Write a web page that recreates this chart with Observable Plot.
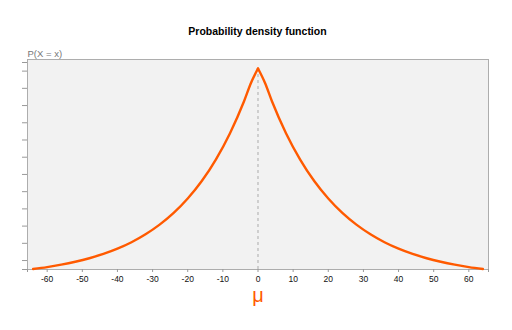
<!DOCTYPE html>
<html>
<head>
<meta charset="utf-8">
<script src="https://cdn.jsdelivr.net/npm/d3@7"></script>
<script src="https://cdn.jsdelivr.net/npm/@observablehq/plot@0.6"></script>
<style>
  body { margin: 0; background: #fff; font-family: "Liberation Sans", Arial, Helvetica, sans-serif; }
  #title {
    box-sizing: border-box; height: 40px; padding-top: 25px;
    margin-left: 27px; width: 461px; text-align: center;
    font-weight: bold; font-size: 10.5px; line-height: 12px; color: #000;
  }
</style>
</head>
<body>
<div id="title">Probability density function</div>
<div id="chart"></div>
<script>
// Laplace-shaped density around μ = 0, sampled every few units
const xs = [-64, -60, -56, -52, -48, -44, -40, -36, -32, -28, -24, -20, -16, -12, -8, -4, -2, 0,
            2, 4, 8, 12, 16, 20, 24, 28, 32, 36, 40, 44, 48, 52, 56, 60, 64];
const density = [0.00102, 0.00124, 0.00152, 0.00186, 0.00227, 0.00277, 0.00338, 0.00413, 0.00505,
                 0.00617, 0.00753, 0.00920, 0.01123, 0.01372, 0.01676, 0.02047, 0.02262, 0.02430,
                 0.02262, 0.02047, 0.01676, 0.01372, 0.01123, 0.00920, 0.00753, 0.00617, 0.00505,
                 0.00413, 0.00338, 0.00277, 0.00227, 0.00186, 0.00152, 0.00124, 0.00102];
const mu = 0;
const xDomain = [-65.6, 65.6];
const yDomain = [0.00096, 0.025];
const xTicks = [-60, -50, -40, -30, -20, -10, 0, 10, 20, 30, 40, 50, 60];
const yTicks = [0.002, 0.004, 0.006, 0.008, 0.010, 0.012, 0.014, 0.016, 0.018, 0.020, 0.022, 0.024];

const orange = "#ff5a00";
const peak = density[xs.indexOf(mu)];

// two branches meeting at the peak so the cusp stays sharp
const rows = [];
xs.forEach((x, i) => {
  if (x <= mu) rows.push({x, p: density[i], side: "left"});
  if (x >= mu) rows.push({x, p: density[i], side: "right"});
});

const chart = Plot.plot({
  width: 512,
  height: 290,
  marginTop: 19,
  marginBottom: 61,
  marginLeft: 27,
  marginRight: 24,
  style: { fontFamily: "'Liberation Sans', Arial, Helvetica, sans-serif", background: "transparent", overflow: "visible" },
  x: { domain: xDomain },
  y: { domain: yDomain, insetTop: 3 },
  marks: [
    Plot.frame({ fill: "#f2f2f2", stroke: "#adadad" }),
    Plot.ruleX([mu], { y1: yDomain[0], y2: peak, stroke: "#ababab", strokeDasharray: "3,3", strokeWidth: 1 }),
    Plot.line(rows, { x: "x", y: "p", z: "side", stroke: orange, strokeWidth: 2.4, curve: "monotone-x" }),
    Plot.axisY({ ticks: yTicks, tickSize: 5, tickFormat: () => "", stroke: "#999", label: null }),
    Plot.axisY({ ticks: yDomain, tickSize: 5, tickFormat: () => "", stroke: "#999", label: null }),
    Plot.axisX({ ticks: xTicks, tickSize: 3, tickPadding: 3, fontSize: 8.5, fill: "#111", stroke: "#999",
                 tickFormat: d => String(d), label: null }),
    Plot.axisX({ ticks: xDomain, tickSize: 3, tickFormat: () => "", stroke: "#999", label: null }),
    Plot.text(["P(X = x)"], { frameAnchor: "top-left", dy: -9, textAnchor: "start", fill: "#777", fontSize: 9.5 }),
    Plot.text([{ x: mu, t: "μ" }], { x: "x", text: "t", frameAnchor: "bottom", dy: 32, fill: orange, fontSize: 20 })
  ]
});
document.getElementById("chart").appendChild(chart);
</script>
</body>
</html>
